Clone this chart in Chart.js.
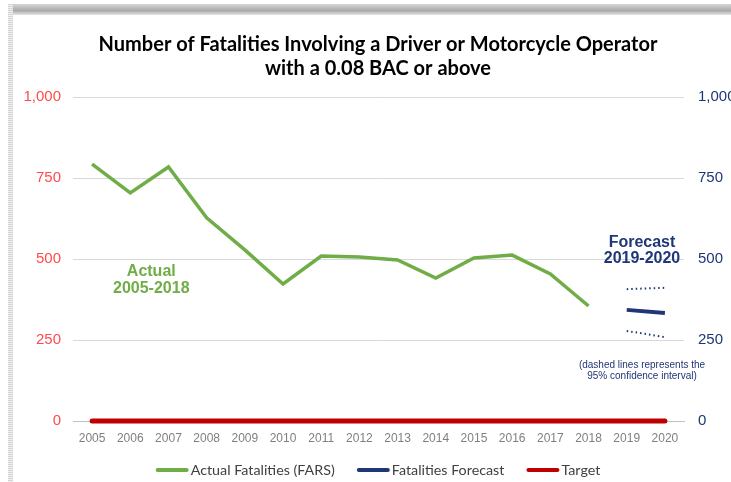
<!DOCTYPE html>
<html>
<head>
<meta charset="utf-8">
<script src="https://cdn.jsdelivr.net/npm/chart.js@4"></script>
<style>
  html, body { margin: 0; padding: 0; background: #fff; }
  #wrap { position: relative; width: 731px; height: 482px; overflow: hidden; background: #fff; }
  #topband { position: absolute; left: 10px; top: 4px; width: 721px; height: 11px;
    background: linear-gradient(to bottom, #d6d6d6, #a9a9a9 60%, #e6e6e6); }
  #leftband { position: absolute; left: 8px; top: 4px; width: 5px; height: 478px;
    background: repeating-linear-gradient(to bottom, #d4d4d4 0px, #d4d4d4 1px, #f0f0f0 1px, #f0f0f0 2px); }
  canvas { position: absolute; left: 0; top: 0; }
</style>
</head>
<body>
<div id="wrap">
  <div id="topband"></div>
  <div id="leftband"></div>
  <canvas id="c" width="731" height="482"></canvas>
</div>
<script>
const years = ["2005","2006","2007","2008","2009","2010","2011","2012","2013","2014","2015","2016","2017","2018","2019","2020"];
const actualFatalities = [793, 704, 784, 627, 528, 423, 509, 506, 497, 441, 503, 512, 454, 355, null, null];
const fatalitiesForecast = [null, null, null, null, null, null, null, null, null, null, null, null, null, null, 343, 333];
const forecastUpper = [null, null, null, null, null, null, null, null, null, null, null, null, null, null, 407, 411];
const forecastLower = [null, null, null, null, null, null, null, null, null, null, null, null, null, null, 278, 259];
const target = [0, 0, 0, 0, 0, 0, 0, 0, 0, 0, 0, 0, 0, 0, 0, 0];
const titleLines = ["Number of Fatalities Involving a Driver or Motorcycle Operator", "with a 0.08 BAC or above"];
const legendLabels = ["Actual Fatalities (FARS)", "Fatalities Forecast", "Target"];

const GREEN = "#70AD47", NAVY = "#1F3677", RED = "#C00000";
const TITLE_FONT = "Lato, 'Open Sans', sans-serif";
const ARIAL = "'Liberation Sans', Arial, sans-serif";

const annotations = {
  id: "annotations",
  afterDatasetsDraw(chart) {
    const ctx = chart.ctx;
    const x = chart.scales.x, y = chart.scales.y;
    ctx.save();
    ctx.textAlign = "center";
    ctx.textBaseline = "middle";
    // title
    ctx.fillStyle = "#000";
    ctx.font = "bold 20px " + TITLE_FONT;
    ctx.fillText(titleLines[0], 378, 45);
    ctx.fillText(titleLines[1], 378, 69);
    // Actual label
    ctx.fillStyle = GREEN;
    ctx.font = "bold 16px " + ARIAL;
    const ax = x.getPixelForValue(1.55);
    ctx.fillText("Actual", ax, y.getPixelForValue(460));
    ctx.fillText("2005-2018", ax, y.getPixelForValue(408));
    // Forecast label
    ctx.fillStyle = NAVY;
    const fx = x.getPixelForValue(14.4);
    ctx.fillText("Forecast", fx, y.getPixelForValue(551));
    ctx.fillText("2019-2020", fx, y.getPixelForValue(500));
    ctx.font = "10px " + ARIAL;
    ctx.fillText("(dashed lines represents the", fx, y.getPixelForValue(172));
    ctx.fillText("95% confidence interval)", fx, y.getPixelForValue(138));

    // legend
    const colors = [GREEN, NAVY, RED];
    const lineW = 33, gap = 2, itemGap = 22;
    ctx.font = "14.3px " + TITLE_FONT;
    const widths = legendLabels.map(t => ctx.measureText(t).width);
    const total = widths.reduce((a, w) => a + lineW + gap + w, 0) + itemGap * (legendLabels.length - 1);
    let lx = 378 - total / 2;
    const ly = 470;
    ctx.textAlign = "left";
    legendLabels.forEach((t, i) => {
      ctx.strokeStyle = colors[i];
      ctx.lineWidth = 4;
      ctx.lineCap = "round";
      ctx.beginPath();
      ctx.moveTo(lx + 2, ly);
      ctx.lineTo(lx + lineW - 2, ly);
      ctx.stroke();
      ctx.fillStyle = "#404040";
      ctx.fillText(t, lx + lineW + gap, ly);
      lx += lineW + gap + widths[i] + itemGap;
    });
    ctx.restore();
  }
};

new Chart(document.getElementById("c"), {
  type: "line",
  data: {
    labels: years,
    datasets: [
      { label: "Target", data: target, borderColor: RED, backgroundColor: RED,
        borderWidth: 5, pointRadius: 0, borderCapStyle: "round", clip: false, yAxisID: "y" },
      { label: "Fatalities Forecast", data: fatalitiesForecast, borderColor: NAVY, backgroundColor: NAVY,
        borderWidth: 4, pointRadius: 0, yAxisID: "y1" },
      { label: "Actual Fatalities (FARS)", data: actualFatalities, borderColor: GREEN, backgroundColor: GREEN,
        borderWidth: 3.5, pointRadius: 0, tension: 0, yAxisID: "y" },
      { label: "Upper", data: forecastUpper, borderColor: NAVY, borderWidth: 2, borderDash: [1.5, 3],
        pointRadius: 0, yAxisID: "y1" },
      { label: "Lower", data: forecastLower, borderColor: NAVY, borderWidth: 2, borderDash: [1.5, 3],
        pointRadius: 0, yAxisID: "y1" }
    ]
  },
  options: {
    responsive: false,
    animation: false,
    layout: { padding: { top: 97, left: 0, right: 0, bottom: 29 } },
    plugins: {
      title: { display: false },
      tooltip: { enabled: false },
      legend: { display: false }
    },
    scales: {
      x: {
        offset: true,
        grid: { display: false, drawTicks: false },
        border: { display: true, color: "#BFBFBF", width: 1 },
        ticks: { color: "#7F7F7F", font: { family: ARIAL, size: 12 }, padding: 10, maxRotation: 0, autoSkip: false },
        afterFit: (s) => { s.height = 32; }
      },
      y: {
        position: "left",
        min: 0, max: 1000,
        ticks: { stepSize: 250, color: "#FF4B4B", font: { family: ARIAL, size: 15 }, padding: 12 },
        grid: { color: "#D9D9D9", drawTicks: false },
        border: { display: false },
        afterFit: (s) => { s.width = 73; }
      },
      y1: {
        position: "right",
        min: 0, max: 1000,
        ticks: { stepSize: 250, color: NAVY, font: { family: ARIAL, size: 15 }, padding: 14 },
        grid: { display: false, drawTicks: false },
        border: { display: false },
        afterFit: (s) => { s.width = 47; }
      }
    }
  },
  plugins: [annotations]
});
</script>
</body>
</html>
